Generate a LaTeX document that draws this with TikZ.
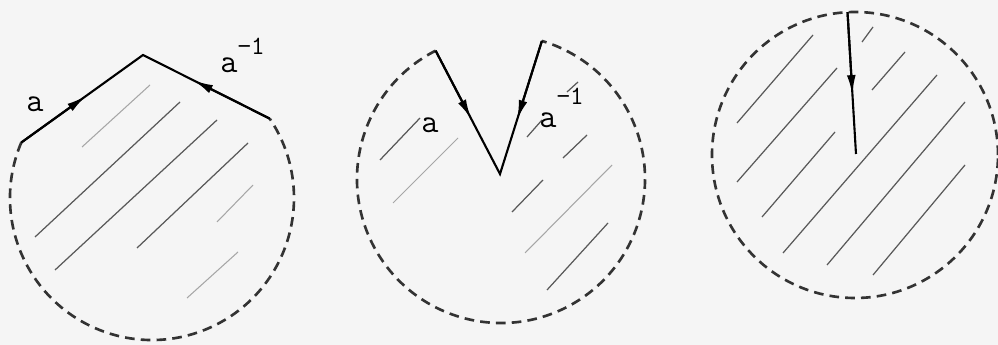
\documentclass[tikz,border=0pt]{standalone}
\usepackage{fontspec}
\usepackage{tikz}
\usetikzlibrary{positioning,arrows.meta,calc}

\begin{document}
\begin{tikzpicture}[x=0.02cm,y=0.02cm,
		side/.style={line width=1.2pt},
		rim/.style={line width=1.5pt,dash pattern=on 5.5pt off 3.5pt,black!80},
		hatch/.style={line width=0.7pt,black!65},
		faint/.style={line width=0.6pt,black!35},
		lbl/.style={font=\fontsize{19}{21}\selectfont\ttfamily,inner sep=0pt,anchor=base west},
		tip/.style={-{Latex[length=11pt,width=5pt]}}]
		
		\fill[black!4]
		(0,0) rectangle (998,345);
		\useasboundingbox (0,0) rectangle (998,345);
		
		% corner
		\coordinate (lc) at (152,147);
		\coordinate (l1) at ($(lc)+(157:142)$);
		\coordinate (lp) at (143,290);
		\coordinate (l2) at ($(lc)+(34:142)$);
		
		\draw[hatch] (180,243) -- (35,108);
		\draw[hatch] (217,225) -- (55,75);
		\draw[hatch] (248,202) -- (137,97);
		\draw[faint] (150,260) -- (82,198);
		\draw[faint] (253,160) -- (217,123);
		\draw[faint] (238,93) -- (187,47);
		
		\draw[rim]
		(l1) arc[start angle=157,end angle=394,radius=142];
		
		\draw[side] (l1) -- (lp) -- (l2);
		\draw[side,tip] (l1) -- ($(l1)!0.53!(lp)$);
		\draw[side,tip] (l2) -- ($(l2)!0.6!(lp)$);
		
		\node[lbl] (la) at (26,233) {a};
		\node[lbl] (lb) at (220,272)
		{a\raisebox{0.55em}{\fontsize{15}{16}\selectfont\textminus 1}};
		
		% notch
		\coordinate (mc) at (501,166);
		\coordinate (m1) at ($(mc)+(117:144)$);
		\coordinate (mv) at (500,171);
		\coordinate (m2) at ($(mc)+(73.5:144)$);
		
		\draw[hatch] (420,227) -- (380,185);
		\draw[faint] (458,207) -- (393,142);
		\draw[hatch] (542,225) -- (527,208);
		\draw[hatch] (578,263) -- (567,253);
		\draw[hatch] (587,210) -- (563,187);
		\draw[hatch] (543,165) -- (512,133);
		\draw[faint] (612,180) -- (525,92);
		\draw[hatch] (608,122) -- (547,55);
		
		\draw[rim]
		(m1) arc[start angle=117,end angle=433.5,radius=144];
		
		\draw[side] (m1) -- (mv) -- (m2);
		\draw[side,tip] (m1) -- ($(m1)!0.55!(mv)$);
		\draw[side,tip] (m2) -- ($(m2)!0.59!(mv)$);
		
		\node[lbl] (ma) at (421,212) {a};
		\node[lbl] (mb) at (539,217)
		{a\raisebox{0.7em}{\fontsize{15}{16}\selectfont\textminus 1}};
		
		% slit
		\coordinate (rc) at (855,190);
		\coordinate (r1) at ($(rc)+(93:143)$);
		\coordinate (r2) at (856,191);
		
		\draw[hatch] (813,310) -- (737,222);
		\draw[hatch] (837,277) -- (737,163);
		\draw[hatch] (873,318) -- (862,303);
		\draw[hatch] (905,293) -- (872,255);
		\draw[hatch] (835,213) -- (762,128);
		\draw[hatch] (937,270) -- (783,92);
		\draw[hatch] (965,243) -- (827,80);
		\draw[hatch] (965,180) -- (873,70);
		
		\draw[rim]
		(rc) circle[radius=143];
		
		\draw[side] (r1) -- (r2);
		\draw[side,tip] (r1) -- ($(r1)!0.58!(r2)$);
		
	\end{tikzpicture}
\end{document}
